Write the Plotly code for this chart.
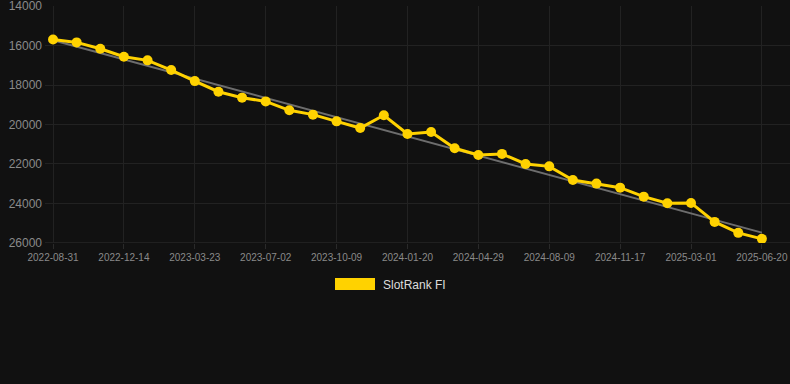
import plotly.graph_objects as go

dates = ["2022-08-31", "2022-10-05", "2022-11-09", "2022-12-14", "2023-01-16", "2023-02-18",
         "2023-03-23", "2023-04-26", "2023-05-29", "2023-07-02", "2023-08-04", "2023-09-06",
         "2023-10-09", "2023-11-12", "2023-12-16", "2024-01-20", "2024-02-22", "2024-03-26",
         "2024-04-29", "2024-06-02", "2024-07-06", "2024-08-09", "2024-09-11", "2024-10-14",
         "2024-11-17", "2024-12-21", "2025-01-25", "2025-03-01", "2025-04-07", "2025-05-14",
         "2025-06-20"]
ranks = [15690, 15840, 16160, 16565, 16750, 17240, 17800, 18340, 18640, 18830, 19280,
         19500, 19840, 20180, 19530, 20480, 20380, 21205, 21545, 21490, 22000, 22120,
         22810, 22995, 23200, 23655, 23990, 23975, 24935, 25490, 25795]
trend_values = [15730, 25480]   # trend line at first and last date
y_ticks = [14000, 16000, 18000, 20000, 22000, 24000, 26000]
x_tick_labels = dates[::3]
series_name = "SlotRank FI"

W, H = 790, 384
ML, MR, MT, MB = 45, 0, 6, 141
YELLOW = "#FFD200"
BG = "#111111"

fig = go.Figure()
fig.add_trace(go.Scatter(x=[dates[0], dates[-1]], y=trend_values, mode="lines",
                         line=dict(color="rgba(140,140,140,0.75)", width=2),
                         showlegend=False, hoverinfo="skip"))
fig.add_trace(go.Scatter(x=dates, y=ranks, mode="lines+markers", name=series_name,
                         line=dict(color=YELLOW, width=3),
                         marker=dict(color=YELLOW, size=10),
                         showlegend=False))

# manual legend (swatch + text)
pw = W - ML - MR
ph = H - MT - MB
def px_x(px):
    return (px - ML) / pw
def px_y(py):
    return (H - MB - py) / ph

fig.add_shape(type="rect", xref="paper", yref="paper",
              x0=px_x(335), x1=px_x(375), y0=px_y(290), y1=px_y(278),
              fillcolor=YELLOW, line=dict(width=0))
fig.add_annotation(xref="paper", yref="paper", x=px_x(381), y=px_y(284.5),
                   text=series_name, showarrow=False, xanchor="left", yanchor="middle",
                   font=dict(color="#dddddd", size=12, family="Liberation Sans, Arial"))

fig.update_layout(
    width=W, height=H,
    margin=dict(l=ML, r=MR, t=MT, b=MB),
    paper_bgcolor=BG, plot_bgcolor=BG,
    font=dict(family="Liberation Sans, Arial", color="#8a8a8a"),
    showlegend=False,
    xaxis=dict(type="category", categoryorder="array", categoryarray=dates,
               range=[-0.34, 31.19],
               tickvals=x_tick_labels, ticktext=x_tick_labels,
               showgrid=True, gridcolor="#222222", gridwidth=1,
               ticks="outside", ticklen=5, tickcolor="#2a2a2a",
               showline=False, zeroline=False, ticklabeloverflow="allow",
               tickfont=dict(size=10, color="#8a8a8a"), tickangle=0),
    yaxis=dict(range=[26005, 13995], tickvals=y_ticks, tickformat="d",
               showgrid=True, gridcolor="#222222", gridwidth=1,
               zeroline=False, showline=False, ticks="",
               ticklabeloverflow="allow",
               tickfont=dict(size=12, color="#8a8a8a"),
               ticklabelstandoff=2),
)
fig.add_shape(type="line", xref="paper", yref="y", x0=0, x1=1, y0=26000, y1=26000,
              line=dict(color="#2c2c2c", width=1), layer="below")

post = ("document.body.style.margin='0';document.body.style.padding='0';"
        "document.body.style.background='%s';document.body.style.overflow='hidden';" % BG)
fig.write_html("out.html", post_script=post, config={"displayModeBar": False})
